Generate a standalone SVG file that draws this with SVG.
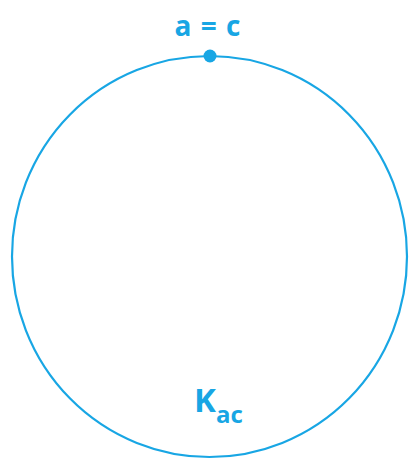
<svg xmlns="http://www.w3.org/2000/svg" width="411" height="459" viewBox="0 0 411 459">
<style>
.c{fill:none;stroke:#18a6e4;stroke-width:2.2}
.t{fill:#18a6e4;font-family:"Open Sans","Liberation Sans",sans-serif;font-weight:bold}
</style>
<rect width="411" height="459" fill="#fff"/>
<g id="circle"><ellipse class="c" cx="209.5" cy="256.5" rx="197.5" ry="200.5"/></g>
<g id="point"><circle cx="210" cy="56" r="6.5" fill="#18a6e4"/><text class="t" x="208" y="36" font-size="28" letter-spacing="1" text-anchor="middle">a = c</text></g>
<g id="label"><text class="t" x="194" y="412" font-size="33">K<tspan font-size="24" dy="11">ac</tspan></text></g>
</svg>
